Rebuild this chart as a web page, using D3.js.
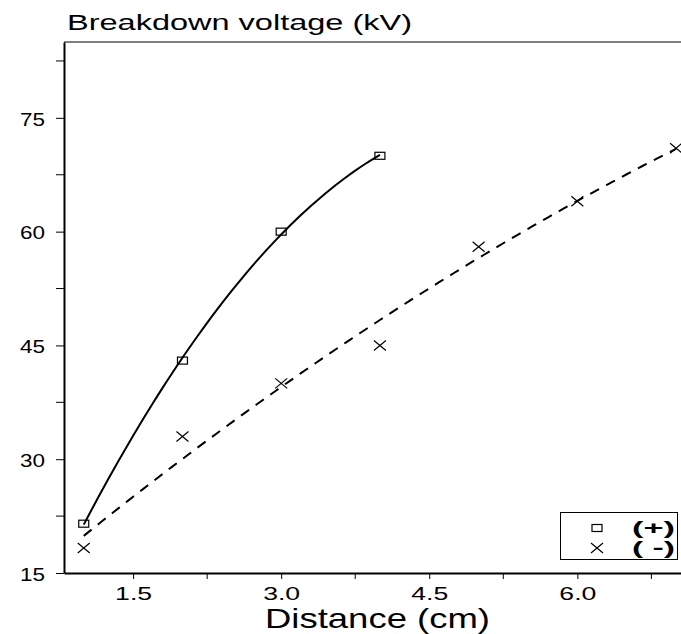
<!DOCTYPE html>
<html>
<head>
<meta charset="utf-8">
<script src="https://cdn.jsdelivr.net/npm/d3@7"></script>
<style>
  body { margin: 0; background: #fff; }
  svg { display: block; font-family: "Liberation Sans", Arial, sans-serif; }
</style>
</head>
<body>
<script>
// data
const distance = [1, 2, 3, 4, 5, 6, 7];
const positive = [21.5, 43, 60, 70];             // (+) at distance 1..4
const negative = [18.3, 33, 40, 45, 58, 64, 71]; // (-) at distance 1..7
const xMajor = [1.5, 3.0, 4.5, 6.0];
const xMinor = [2.25, 3.75, 5.25, 6.75];
const yMajor = [15, 30, 45, 60, 75];
const yMinor = [22.5, 37.5, 52.5, 67.5, 82.5];

const width = 681, height = 634;
const margin = {top: 42, right: 0, bottom: 61, left: 64};

const svg = d3.select("body").append("svg")
  .attr("width", width)
  .attr("height", height);

const x = d3.scaleLinear()
  .domain([0.8, 7.05])
  .range([margin.left, width - margin.right]);

const y = d3.scaleLinear()
  .domain([15, 85])
  .range([height - margin.bottom, margin.top]);

// least-squares quadratic through the points
function quadFit(xs, ys) {
  let n = xs.length, sx = 0, sx2 = 0, sx3 = 0, sx4 = 0, sy = 0, sxy = 0, sx2y = 0;
  xs.forEach((xi, i) => {
    const yi = ys[i];
    sx += xi; sx2 += xi * xi; sx3 += xi ** 3; sx4 += xi ** 4;
    sy += yi; sxy += xi * yi; sx2y += xi * xi * yi;
  });
  const M = [[sx4, sx3, sx2], [sx3, sx2, sx], [sx2, sx, n]];
  const B = [sx2y, sxy, sy];
  const det = m => m[0][0] * (m[1][1] * m[2][2] - m[1][2] * m[2][1])
    - m[0][1] * (m[1][0] * m[2][2] - m[1][2] * m[2][0])
    + m[0][2] * (m[1][0] * m[2][1] - m[1][1] * m[2][0]);
  const D = det(M);
  const sol = [0, 1, 2].map(k => det(M.map((row, r) => row.map((v, c) => c === k ? B[r] : v))) / D);
  return t => sol[0] * t * t + sol[1] * t + sol[2];
}

const posX = distance.slice(0, positive.length);
const fitPos = quadFit(posX, positive);
const fitNeg = quadFit(distance, negative);

const line = d3.line().x(d => x(d[0])).y(d => y(d[1]));

svg.append("path")
  .datum(d3.range(1, 4.0001, 0.05).map(t => [t, fitPos(t)]))
  .attr("fill", "none")
  .attr("stroke", "#000")
  .attr("stroke-width", 2)
  .attr("d", line);

svg.append("path")
  .datum(d3.range(1, 7.0001, 0.05).map(t => [t, fitNeg(t)]))
  .attr("fill", "none")
  .attr("stroke", "#000")
  .attr("stroke-width", 2)
  .attr("stroke-dasharray", "10,8")
  .attr("d", line);

// frame top line
svg.append("line")
  .attr("x1", margin.left).attr("x2", width)
  .attr("y1", margin.top).attr("y2", margin.top)
  .attr("stroke", "#000").attr("stroke-width", 1);

// axes
const xAxis = g => g
  .attr("transform", `translate(0,${height - margin.bottom})`)
  .call(d3.axisBottom(x).tickValues(xMajor).tickFormat(d3.format(".1f")).tickSize(6).tickSizeOuter(0))
  .call(g => g.selectAll(".domain").attr("stroke-width", 2))
  .call(g => g.selectAll("text")
    .attr("font-size", 19).attr("fill", "#000")
    .attr("dy", null).attr("y", 27)
    .attr("textLength", 37).attr("lengthAdjust", "spacingAndGlyphs"));

const yAxis = g => g
  .attr("transform", `translate(${margin.left},0)`)
  .call(d3.axisLeft(y).tickValues(yMajor).tickSize(8).tickSizeOuter(0))
  .call(g => g.selectAll(".domain").attr("stroke-width", 2))
  .call(g => g.selectAll("text")
    .attr("font-size", 19).attr("fill", "#000")
    .attr("x", -19).attr("dy", "0.38em")
    .attr("textLength", 25).attr("lengthAdjust", "spacingAndGlyphs"));

svg.append("g").call(xAxis).attr("font-family", null);
svg.append("g").call(yAxis).attr("font-family", null);

svg.append("g")
  .selectAll("line")
  .data(xMinor)
  .enter().append("line")
    .attr("x1", d => x(d)).attr("x2", d => x(d))
    .attr("y1", height - margin.bottom).attr("y2", height - margin.bottom + 6)
    .attr("stroke", "#000");

svg.append("g")
  .selectAll("line")
  .data(yMinor)
  .enter().append("line")
    .attr("y1", d => y(d)).attr("y2", d => y(d))
    .attr("x1", margin.left).attr("x2", margin.left - 8)
    .attr("stroke", "#000");

// markers
const square = (g, cx, cy) => g.append("rect")
  .attr("x", cx - 5).attr("y", cy - 3.5)
  .attr("width", 10).attr("height", 7)
  .attr("fill", "none").attr("stroke", "#000").attr("stroke-width", 1.2);

const cross = (g, cx, cy) => g.append("path")
  .attr("d", `M${cx - 6},${cy - 5}L${cx + 6},${cy + 5}M${cx - 6},${cy + 5}L${cx + 6},${cy - 5}`)
  .attr("fill", "none").attr("stroke", "#000").attr("stroke-width", 1.2);

const marks = svg.append("g");
positive.forEach((v, i) => square(marks, x(posX[i]), y(v)));
negative.forEach((v, i) => cross(marks, x(distance[i]), y(v)));

// titles
svg.append("text")
  .attr("x", 67).attr("y", 30)
  .attr("font-size", 22)
  .attr("textLength", 345).attr("lengthAdjust", "spacingAndGlyphs")
  .text("Breakdown voltage (kV)");

svg.append("text")
  .attr("x", 265).attr("y", 628)
  .attr("font-size", 28)
  .attr("textLength", 225).attr("lengthAdjust", "spacingAndGlyphs")
  .text("Distance (cm)");

// legend
const legend = svg.append("g");
legend.append("rect")
  .attr("x", 560.5).attr("y", 512.5)
  .attr("width", 117).attr("height", 47)
  .attr("fill", "#fff").attr("stroke", "#000").attr("stroke-width", 1);
square(legend, 597, 528);
cross(legend, 597, 548);
legend.append("text").attr("x", 632).attr("y", 534).attr("font-size", 19)
  .attr("font-weight", "bold")
  .attr("textLength", 43).attr("lengthAdjust", "spacingAndGlyphs").text("(+)");
legend.append("text").attr("x", 632).attr("y", 554).attr("font-size", 19)
  .attr("font-weight", "bold")
  .attr("textLength", 43).attr("lengthAdjust", "spacingAndGlyphs").text("( -)");
</script>
</body>
</html>
